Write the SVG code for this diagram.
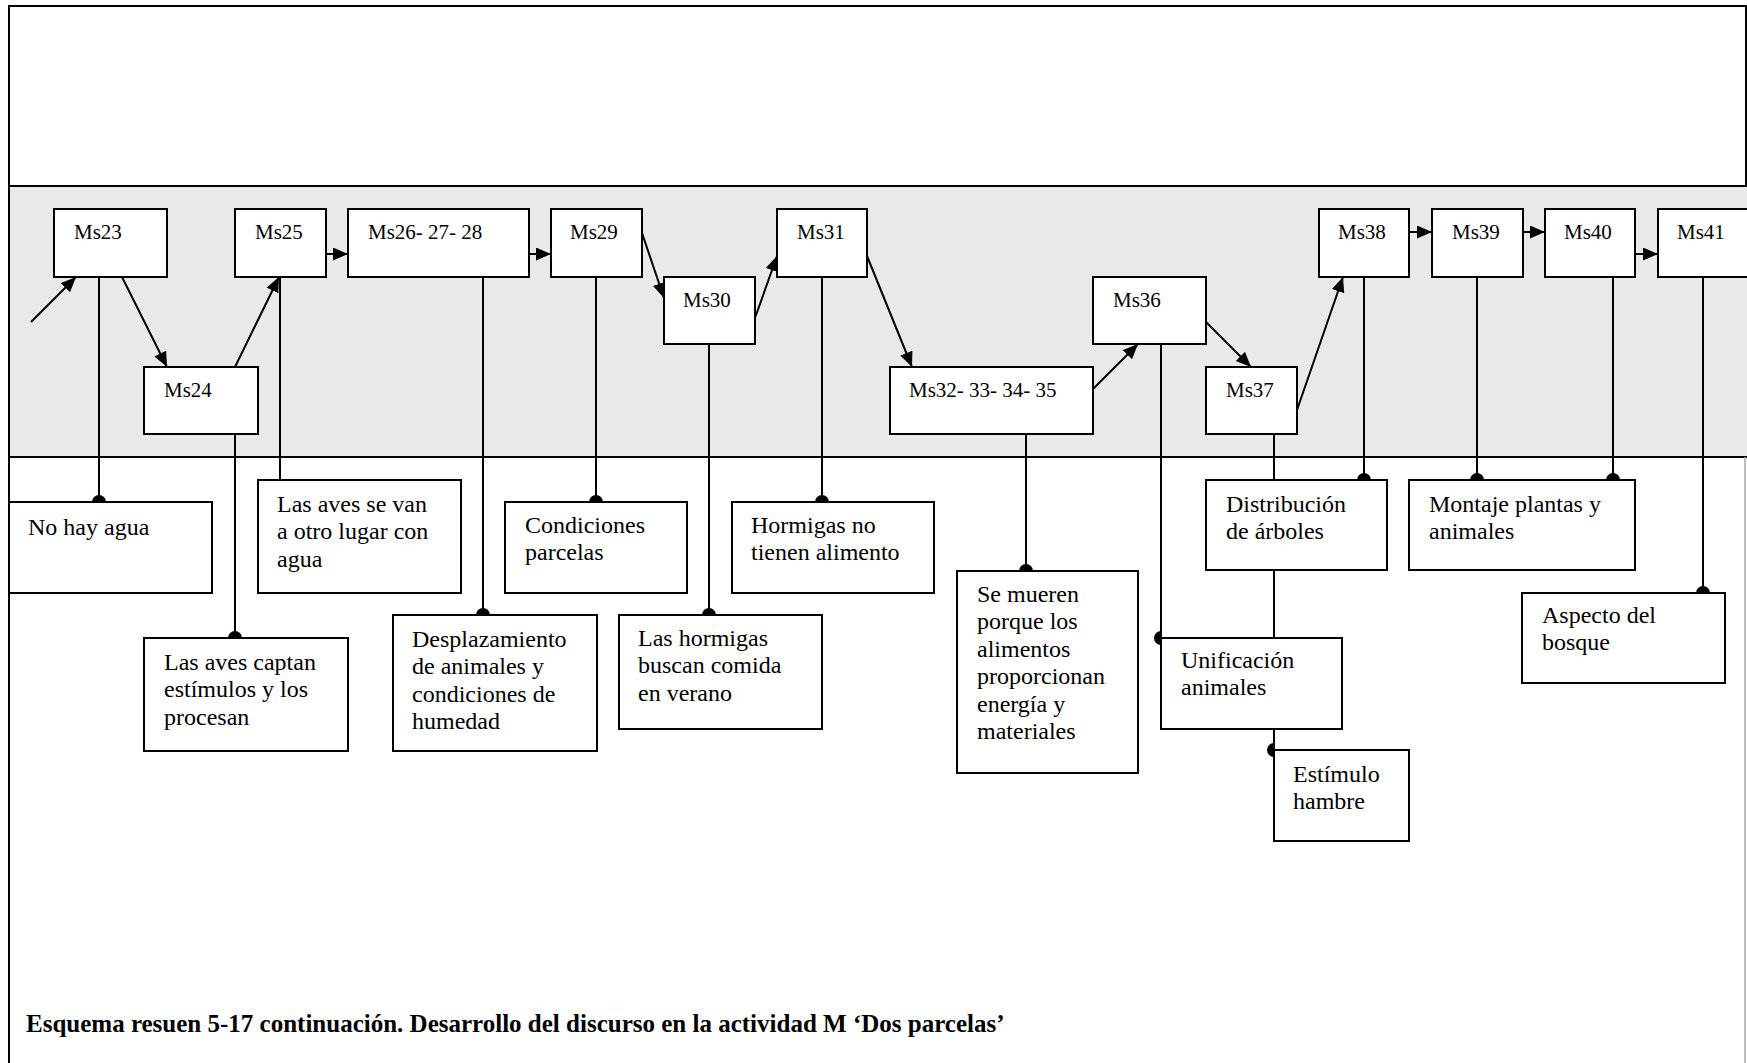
<svg xmlns="http://www.w3.org/2000/svg" width="1747" height="1063" viewBox="0 0 1747 1063">
<style>
.box{fill:#fff;stroke:#000;stroke-width:2}
.ln{fill:none;stroke:#000;stroke-width:2}
.arr{fill:none;stroke:#000;stroke-width:2;marker-end:url(#ah)}
.dot{fill:#000;stroke:none}
.ms{font-family:"Liberation Serif","Times New Roman",serif;font-size:21px;fill:#000}
.tx{font-family:"Liberation Serif","Times New Roman",serif;font-size:24px;fill:#000}
.cap{font-family:"Liberation Serif","Times New Roman",serif;font-size:25px;font-weight:bold;fill:#000}
</style>
<defs>
<marker id="ah" markerUnits="userSpaceOnUse" markerWidth="16" markerHeight="14" refX="15" refY="6.5" orient="auto" viewBox="0 0 16 14">
<path d="M0,0 L15,6.5 L0,13 z" fill="#000"/>
</marker>
</defs>
<rect x="0" y="0" width="1747" height="1063" fill="#fff"/>
<g id="frame">
<rect x="9" y="186" width="1745" height="271" fill="#e9e9e9"/>
<path class="ln" d="M9,1063 V6 H1746 V186"/>
<path class="ln" d="M9,186 H1747 M9,457 H1747"/>
<path d="M1745,457 V1063" stroke="#a8a8a8" stroke-width="1.5" fill="none"/>
</g>
<g id="connectors">
<path class="arr" d="M31,322 L76,277"/>
<path class="arr" d="M122,277 L167,367"/>
<path class="arr" d="M235,367 L279,277"/>
<path class="arr" d="M326,254 L348,254"/>
<path class="arr" d="M529,254 L551,254"/>
<path class="arr" d="M642,233 L664,298"/>
<path class="arr" d="M755,318 L777,256"/>
<path class="arr" d="M867,256 L912,367"/>
<path class="arr" d="M1093,389 L1138,344"/>
<path class="arr" d="M1206,322 L1251,367"/>
<path class="arr" d="M1297,410 L1343,277"/>
<path class="arr" d="M1409,232 L1432,232"/>
<path class="arr" d="M1523,232 L1545,232"/>
<path class="arr" d="M1635,254 L1658,254"/>
<path class="ln" d="M99,277 V502 M235,434 V638 M280,277 V480 M483,277 V615 M596,277 V502 M709,344 V615 M822,277 V502 M1026,434 V571 M1161,344 V638 M1274,434 V750 M1364,277 V480 M1477,277 V480 M1613,277 V480 M1703,277 V593"/>
<path class="dot" d="M92,502 A7,7 0 0 1 106,502 Z"/>
<path class="dot" d="M228,638 A7,7 0 0 1 242,638 Z"/>
<path class="dot" d="M476,615 A7,7 0 0 1 490,615 Z"/>
<path class="dot" d="M589,502 A7,7 0 0 1 603,502 Z"/>
<path class="dot" d="M702,615 A7,7 0 0 1 716,615 Z"/>
<path class="dot" d="M815,502 A7,7 0 0 1 829,502 Z"/>
<path class="dot" d="M1019,571 A7,7 0 0 1 1033,571 Z"/>
<path class="dot" d="M1357,480 A7,7 0 0 1 1371,480 Z"/>
<path class="dot" d="M1470,480 A7,7 0 0 1 1484,480 Z"/>
<path class="dot" d="M1606,480 A7,7 0 0 1 1620,480 Z"/>
<path class="dot" d="M1696,593 A7,7 0 0 1 1710,593 Z"/>
<path class="dot" d="M1161,631 A7,7 0 0 0 1161,645 Z"/>
<path class="dot" d="M1274,743 A7,7 0 0 0 1274,757 Z"/>
</g>
<g id="Ms23"><rect class="box" x="54" y="209" width="113" height="68"/><text class="ms" x="74" y="239">Ms23</text></g>
<g id="Ms24"><rect class="box" x="144" y="367" width="114" height="67"/><text class="ms" x="164" y="397">Ms24</text></g>
<g id="Ms25"><rect class="box" x="235" y="209" width="91" height="68"/><text class="ms" x="255" y="239">Ms25</text></g>
<g id="Ms26-27-28"><rect class="box" x="348" y="209" width="181" height="68"/><text class="ms" x="368" y="239">Ms26- 27- 28</text></g>
<g id="Ms29"><rect class="box" x="551" y="209" width="91" height="68"/><text class="ms" x="570" y="239">Ms29</text></g>
<g id="Ms30"><rect class="box" x="664" y="277" width="91" height="67"/><text class="ms" x="683" y="307">Ms30</text></g>
<g id="Ms31"><rect class="box" x="777" y="209" width="90" height="68"/><text class="ms" x="797" y="239">Ms31</text></g>
<g id="Ms32-33-34-35"><rect class="box" x="890" y="367" width="203" height="67"/><text class="ms" x="909" y="397">Ms32- 33- 34- 35</text></g>
<g id="Ms36"><rect class="box" x="1093" y="277" width="113" height="67"/><text class="ms" x="1113" y="307">Ms36</text></g>
<g id="Ms37"><rect class="box" x="1206" y="367" width="91" height="67"/><text class="ms" x="1226" y="397">Ms37</text></g>
<g id="Ms38"><rect class="box" x="1319" y="209" width="90" height="68"/><text class="ms" x="1338" y="239">Ms38</text></g>
<g id="Ms39"><rect class="box" x="1432" y="209" width="91" height="68"/><text class="ms" x="1452" y="239">Ms39</text></g>
<g id="Ms40"><rect class="box" x="1545" y="209" width="90" height="68"/><text class="ms" x="1564" y="239">Ms40</text></g>
<g id="Ms41"><rect class="box" x="1658" y="209" width="100" height="68"/><text class="ms" x="1677" y="239">Ms41</text></g>
<g id="no-hay-agua"><rect class="box" x="9" y="502" width="203" height="91"/><text class="tx" x="28" y="535">No hay agua</text></g>
<g id="aves-se-van"><rect class="box" x="258" y="480" width="203" height="113"/><text class="tx" x="277" y="512">Las aves se van<tspan x="277" dy="27.4">a otro lugar con</tspan><tspan x="277" dy="27.4">agua</tspan></text></g>
<g id="aves-captan"><rect class="box" x="144" y="638" width="204" height="113"/><text class="tx" x="164" y="670">Las aves captan<tspan x="164" dy="27.4">estímulos y los</tspan><tspan x="164" dy="27.4">procesan</tspan></text></g>
<g id="desplazamiento"><rect class="box" x="393" y="615" width="204" height="136"/><text class="tx" x="412" y="647">Desplazamiento<tspan x="412" dy="27.4">de animales y</tspan><tspan x="412" dy="27.4">condiciones de</tspan><tspan x="412" dy="27.4">humedad</tspan></text></g>
<g id="condiciones"><rect class="box" x="505" y="502" width="182" height="91"/><text class="tx" x="525" y="533">Condiciones<tspan x="525" dy="27.4">parcelas</tspan></text></g>
<g id="hormigas-buscan"><rect class="box" x="619" y="615" width="203" height="114"/><text class="tx" x="638" y="646">Las hormigas<tspan x="638" dy="27.4">buscan comida</tspan><tspan x="638" dy="27.4">en verano</tspan></text></g>
<g id="hormigas-no"><rect class="box" x="732" y="502" width="202" height="91"/><text class="tx" x="751" y="533">Hormigas no<tspan x="751" dy="27.4">tienen alimento</tspan></text></g>
<g id="se-mueren"><rect class="box" x="957" y="571" width="181" height="202"/><text class="tx" x="977" y="602">Se mueren<tspan x="977" dy="27.4">porque los</tspan><tspan x="977" dy="27.4">alimentos</tspan><tspan x="977" dy="27.4">proporcionan</tspan><tspan x="977" dy="27.4">energía y</tspan><tspan x="977" dy="27.4">materiales</tspan></text></g>
<g id="distribucion"><rect class="box" x="1206" y="480" width="181" height="90"/><text class="tx" x="1226" y="512">Distribución<tspan x="1226" dy="27.4">de árboles</tspan></text></g>
<g id="montaje"><rect class="box" x="1409" y="480" width="226" height="90"/><text class="tx" x="1429" y="512">Montaje plantas y<tspan x="1429" dy="27.4">animales</tspan></text></g>
<g id="unificacion"><rect class="box" x="1161" y="638" width="181" height="91"/><text class="tx" x="1181" y="668">Unificación<tspan x="1181" dy="27.4">animales</tspan></text></g>
<g id="estimulo"><rect class="box" x="1274" y="750" width="135" height="91"/><text class="tx" x="1293" y="782">Estímulo<tspan x="1293" dy="27.4">hambre</tspan></text></g>
<g id="aspecto"><rect class="box" x="1522" y="593" width="203" height="90"/><text class="tx" x="1542" y="623">Aspecto del<tspan x="1542" dy="27.4">bosque</tspan></text></g>
<text class="cap" x="26" y="1032">Esquema resuen 5-17 continuación. Desarrollo del discurso en la actividad M ‘Dos parcelas’</text>
</svg>
